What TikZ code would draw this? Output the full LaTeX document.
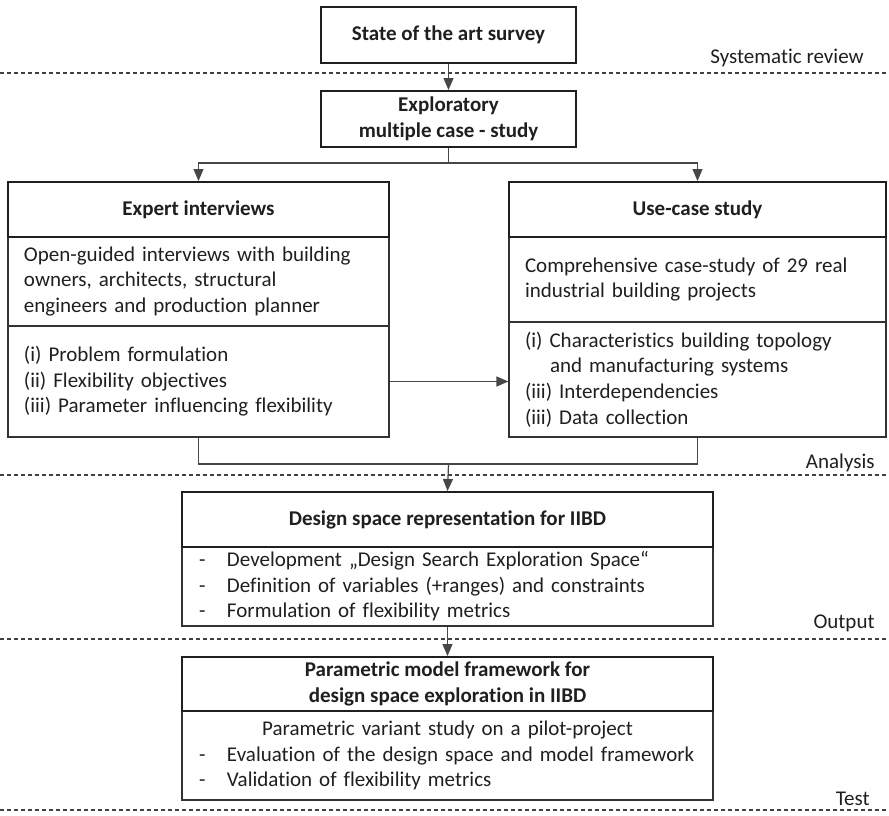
\documentclass[tikz,border=0pt]{standalone}
\usepackage{fontspec}
\setmainfont{Carlito}[Ligatures=NoCommon]
\usetikzlibrary{arrows.meta}

\newcommand{\diagfont}{\fontsize{10.5}{12.8}\selectfont}
\newcommand{\dashitem}[1]{\makebox[14pt][l]{-}#1}

\begin{document}
\begin{tikzpicture}[x=0.5pt, y=-0.5pt, font=\diagfont, text=black!88,
		headbox/.style={draw=black!88, line width=1pt, font=\diagfont\bfseries, align=center, inner sep=0pt},
		textbox/.style={draw=black!80, line width=0.6pt, align=left, inner xsep=8pt, inner ysep=0pt},
		flow/.style={draw=black!72, line width=0.6pt, -{Triangle[length=6pt, width=5pt]}},
		link/.style={draw=black!72, line width=0.6pt},
		phase/.style={draw=black!75, line width=0.6pt, dash pattern=on 2pt off 1.5pt},
		phaselabel/.style={anchor=east, inner sep=0pt}]
				
				\useasboundingbox (0,0) rectangle (889,815);
				
				\draw[phase] (0,73) -- (889,73);
				\draw[phase] (0,475) -- (889,475);
				\draw[phase] (0,639) -- (889,639);
				\draw[phase] (0,810) -- (889,810);
				
				\node[phaselabel] (Review) at (864,58) {Systematic review};
				\node[phaselabel] (Analysis) at (875,463) {Analysis};
				\node[phaselabel] (Output) at (875,623) {Output};
				\node[phaselabel] (Test) at (870,799) {Test};
				
				\node[headbox, minimum width=127.5pt, minimum height=28pt] (Survey) at (448.5,35) {State of the art survey};
				\node[headbox, minimum width=127.5pt, minimum height=28pt] (Explore) at (448.5,119) {Exploratory\\multiple case - study};
				
				\node[textbox, text width=174.5pt, minimum height=44.5pt] (ExpertInfo) at (198.5,281.5) {Open-guided interviews with building\\owners, architects, structural\\engineers and production planner};
				\node[textbox, text width=174.5pt, minimum height=55.5pt] (ExpertList) at (198.5,381.5) {(i) Problem formulation\\(ii) Flexibility objectives\\(iii) Parameter influencing flexibility};
				\node[headbox, minimum width=190.5pt, minimum height=27.5pt] (ExpertHead) at (198.5,209.5) {Expert interviews};
				
				\node[textbox, text width=172.5pt, minimum height=42.5pt] (CaseInfo) at (697.5,279.5) {Comprehensive case-study of 29 real\\industrial building projects};
				\node[textbox, text width=172.5pt, minimum height=57.5pt] (CaseList) at (697.5,379.5) {(i) Characteristics building topology\\\hspace*{12.5pt}and manufacturing systems\\(iii) Interdependencies\\(iii) Data collection};
				\node[headbox, minimum width=188.5pt, minimum height=27.5pt] (CaseHead) at (697.5,209.5) {Use-case study};
				
				\node[textbox, inner xsep=8.5pt, text width=248.5pt, minimum height=39.5pt] (DesignInfo) at (447.5,586.5) {\dashitem{Development „Design Search Exploration Space“}\\\dashitem{Definition of variables (+ranges) and constraints}\\\dashitem{Formulation of flexibility metrics}};
				\node[headbox, minimum width=265.5pt, minimum height=27.5pt] (DesignHead) at (447.5,519.5) {Design space representation for IIBD};
				
				\node[textbox, inner xsep=8.5pt, text width=248.5pt, minimum height=44.5pt] (ModelInfo) at (447.5,755.5) {\makebox[248.5pt]{Parametric variant study on a pilot-project}\\\dashitem{Evaluation of the design space and model framework}\\\dashitem{Validation of flexibility metrics}};
				\node[headbox, minimum width=265.5pt, minimum height=27pt] (ModelHead) at (447.5,684) {Parametric model framework for\\design space exploration in IIBD};
				
				\coordinate (Split) at (448.5,163);
				\coordinate (Merge) at (448.5,464);
				
				\draw[flow] (Survey.south) -- (Explore.north);
				\draw[flow] (Explore.south) -- (Split) -| (ExpertHead.north);
				\draw[flow] (Split) -| (CaseHead.north);
				\draw[flow] (ExpertList.east) -- (ExpertList.east -| CaseList.west);
				\draw[link] (ExpertList.south) |- (Merge) -| (CaseList.south);
				\draw[flow] (Merge) -- (DesignHead.north);
				\draw[flow] (DesignInfo.south) -- (ModelHead.north);
				
			\end{tikzpicture}
\end{document}
